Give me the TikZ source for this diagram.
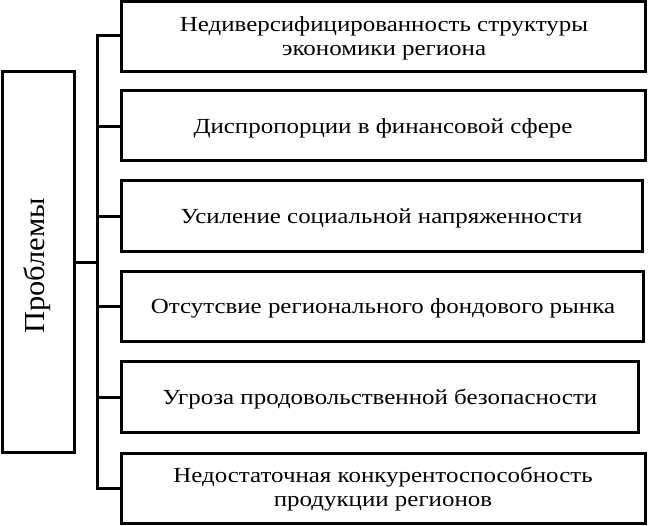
\documentclass[tikz,border=0pt]{standalone}
\usepackage{fontspec}
\setmainfont{Liberation Serif}
\newfontfamily\widefont[FakeStretch=1.16]{Liberation Serif}
\newfontfamily\titlefont[FakeStretch=1.05]{Liberation Serif}
\begin{document}
\begin{tikzpicture}[x=1pt,y=-1pt,
  box/.style={draw,line width=3pt,inner sep=0pt},
  conn/.style={line width=3pt},
  lbl/.style={font=\widefont\fontsize{21.5}{24}\selectfont,align=center}]
\useasboundingbox (0,0) rectangle (648,526);
% left box
\draw[box] (2,72) rectangle (74,452);
\node[rotate=90,font=\titlefont\fontsize{29}{32}\selectfont] (prob) at (37,266) {Проблемы};
\coordinate (L) at (74,263);
% right boxes
\draw[box] (121,2) rectangle (645,72);
\draw[box] (121,91) rectangle (645,161);
\draw[box] (121,181) rectangle (642,252);
\draw[box] (121,272) rectangle (643,342);
\draw[box] (121,362) rectangle (638,433);
\draw[box] (121,453) rectangle (645,523);
\node[lbl] (t1) at (384,38.5) {Недиверсифицированность структуры\\экономики региона};
\node[lbl] (t2) at (383,128) {Диспропорции в финансовой сфере};
\node[lbl] (t3) at (381.5,218) {Усиление социальной напряженности};
\node[lbl] (t4) at (383,308) {Отсутсвие регионального фондового рынка};
\node[lbl] (t5) at (380,399) {Угроза продовольственной безопасности};
\node[lbl] (t6) at (383,489) {Недостаточная конкурентоспособность\\продукции регионов};
% connectors
\coordinate (vt) at (97,36);
\coordinate (vb) at (97,488);
\draw[conn,line cap=rect] (vt) -- (vb);
\draw[conn] (L) -- (97,263);
\foreach \y in {36,127,217,307,398,488}{
  \draw[conn] (97,\y) -- (121,\y);
}
\end{tikzpicture}
\end{document}
